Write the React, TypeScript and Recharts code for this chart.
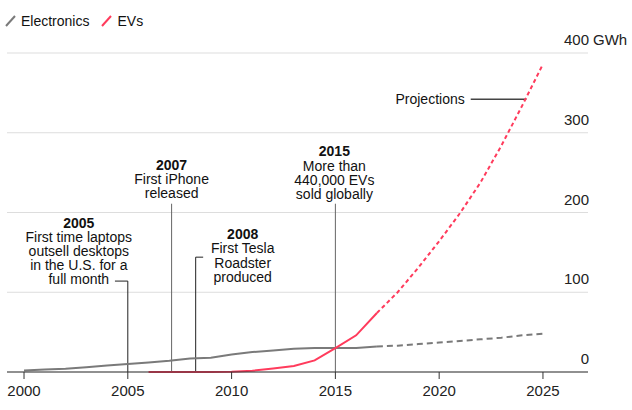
import { LineChart, Line, XAxis, YAxis, CartesianGrid, ReferenceLine } from "recharts";

const years = [
  2000, 2001, 2002, 2003, 2004, 2005, 2006, 2007, 2008, 2009, 2010, 2011, 2012,
  2013, 2014, 2015, 2016, 2017, 2018, 2019, 2020, 2021, 2022, 2023, 2024, 2025,
];
// GWh, 2000-2017 actual
const electronics = [2, 3, 4, 6, 8, 10, 12, 14, 17, 18, 22, 25, 27, 29, 30, 30, 30, 32];
// 2017-2025 projected
const electronicsProjected = [32, 33, 35, 37, 39, 41, 43, 46, 48];
// 2006-2017 actual
const evs = [0, 0, 0, 0, 0.3, 1.5, 4.5, 7.5, 14.5, 30, 46, 74];
// 2017-2025 projected
const evsProjected = [74, 100, 131, 164, 199, 238, 284, 334, 386];

const xTicks = [2000, 2005, 2010, 2015, 2020, 2025];
const yTicks = [0, 100, 200, 300, 400];

const FONT = "'Liberation Sans', Arial, sans-serif";
const GRAY = "#7a7a7a";
const RED = "#ff3b5c";

const data = years.map((year) => ({
  year,
  electronics: year <= 2017 ? electronics[year - 2000] : undefined,
  electronicsProj: year >= 2017 ? electronicsProjected[year - 2017] : undefined,
  evs: year >= 2006 && year <= 2017 ? evs[year - 2006] : undefined,
  evsProj: year >= 2017 ? evsProjected[year - 2017] : undefined,
}));

type Note = {
  year: number;
  top: number; // value where the leader starts
  leg?: number; // year where a short horizontal leg ends
  lines: string[];
  dx: number; // text centre offset from the line
  lastDy: number; // last line centre offset from the top
  color: string;
};

const notes: Note[] = [
  { year: 2005, top: 114, leg: 2004.38, lines: ["2005", "First time laptops", "outsell desktops", "in the U.S. for a", "full month"], dx: -49, lastDy: -2, color: "#222" },
  { year: 2007.11, top: 211, lines: ["2007", "First iPhone", "released"], dx: 0, lastDy: -11, color: "#666" },
  { year: 2008.27, top: 144, leg: 2008.63, lines: ["2008", "First Tesla", "Roadster", "produced"], dx: 47, lastDy: 19.5, color: "#222" },
  { year: 2015, top: 211, lines: ["2015", "More than", "440,000 EVs", "sold globally"], dx: -1, lastDy: -10, color: "#666" },
];

function noteLabel(note: Note) {
  return (p: any) => {
    const vb = p.viewBox || {};
    const cx = vb.x + note.dx;
    const lastC = vb.y + note.lastDy;
    const n = note.lines.length;
    return (
      <text textAnchor="middle" fontFamily={FONT} fontSize={14} fill="#111">
        {note.lines.map((t, i) => (
          <tspan key={i} x={cx} y={lastC - (n - 1 - i) * 14.1 + 5} fontWeight={i === 0 ? 700 : 400}>
            {t}
          </tspan>
        ))}
      </text>
    );
  };
}

function YTick(props: any) {
  const { x, y, payload } = props;
  return (
    <g>
      <text x={x + 1} y={y - 8} textAnchor="end" fontFamily={FONT} fontSize={15} fill="#222">
        {payload.value}
      </text>
      {payload.value === 400 && (
        <text x={x + 5} y={y - 8} textAnchor="start" fontFamily={FONT} fontSize={15} fill="#222">
          GWh
        </text>
      )}
    </g>
  );
}

function Slash({ color }: { color: string }) {
  return (
    <svg width="11" height="12" style={{ marginRight: 5 }}>
      <line x1="1" y1="11" x2="10" y2="1" stroke={color} strokeWidth="2" />
    </svg>
  );
}

export default function App() {
  return (
    <div style={{ position: "absolute", left: 0, top: 0, width: 632, height: 410, background: "#fff" }}>
      <div
        style={{
          position: "absolute", left: 5, top: 13, display: "flex", alignItems: "center",
          fontFamily: FONT, fontSize: 14, color: "#111", zIndex: 2,
        }}
      >
        <Slash color={GRAY} />
        <span style={{ marginRight: 12 }}>Electronics</span>
        <Slash color={RED} />
        <span>EVs</span>
      </div>
      <LineChart width={632} height={410} data={data} margin={{ top: 53, right: 0, left: 7, bottom: 0 }}>
        <CartesianGrid vertical={false} stroke="#dddddd" />
        <XAxis
          dataKey="year"
          type="number"
          domain={[1999.18, 2027.17]}
          ticks={xTicks}
          height={38}
          tickSize={7}
          tickMargin={6}
          stroke="#333"
          tick={{ fontSize: 15, fill: "#222", fontFamily: FONT }}
          allowDataOverflow
        />
        <YAxis
          orientation="right"
          width={44}
          domain={[0, 400]}
          ticks={yTicks}
          axisLine={false}
          tickLine={false}
          tickSize={0}
          tickMargin={0}
          tick={<YTick />}
        />
        {notes.map((note) => (
          <ReferenceLine
            key={"v" + note.year}
            segment={[{ x: note.year, y: 0 }, { x: note.year, y: note.top }]}
            stroke={note.color}
            strokeWidth={1}
            label={noteLabel(note)}
          />
        ))}
        {notes
          .filter((note) => note.leg !== undefined)
          .map((note) => (
            <ReferenceLine
              key={"h" + note.year}
              segment={[{ x: note.leg as number, y: note.top }, { x: note.year, y: note.top }]}
              stroke={note.color}
              strokeWidth={1}
            />
          ))}
        <ReferenceLine
          segment={[{ x: 2021.52, y: 342 }, { x: 2024.2, y: 342 }]}
          stroke="#444"
          strokeWidth={1.5}
          label={(p: any) => (
            <text x={p.viewBox.x - 6} y={p.viewBox.y + 5} textAnchor="end" fontFamily={FONT} fontSize={14} fill="#111">
              Projections
            </text>
          )}
        />
        <Line type="linear" dataKey="electronics" stroke={GRAY} strokeWidth={2} dot={false} isAnimationActive={false} />
        <Line type="linear" dataKey="electronicsProj" stroke={GRAY} strokeWidth={2} strokeDasharray="6 4" dot={false} isAnimationActive={false} />
        <Line type="linear" dataKey="evs" stroke={RED} strokeWidth={2} dot={false} isAnimationActive={false} />
        <Line type="linear" dataKey="evsProj" stroke={RED} strokeWidth={2} strokeDasharray="4 3" dot={false} isAnimationActive={false} />
      </LineChart>
    </div>
  );
}
